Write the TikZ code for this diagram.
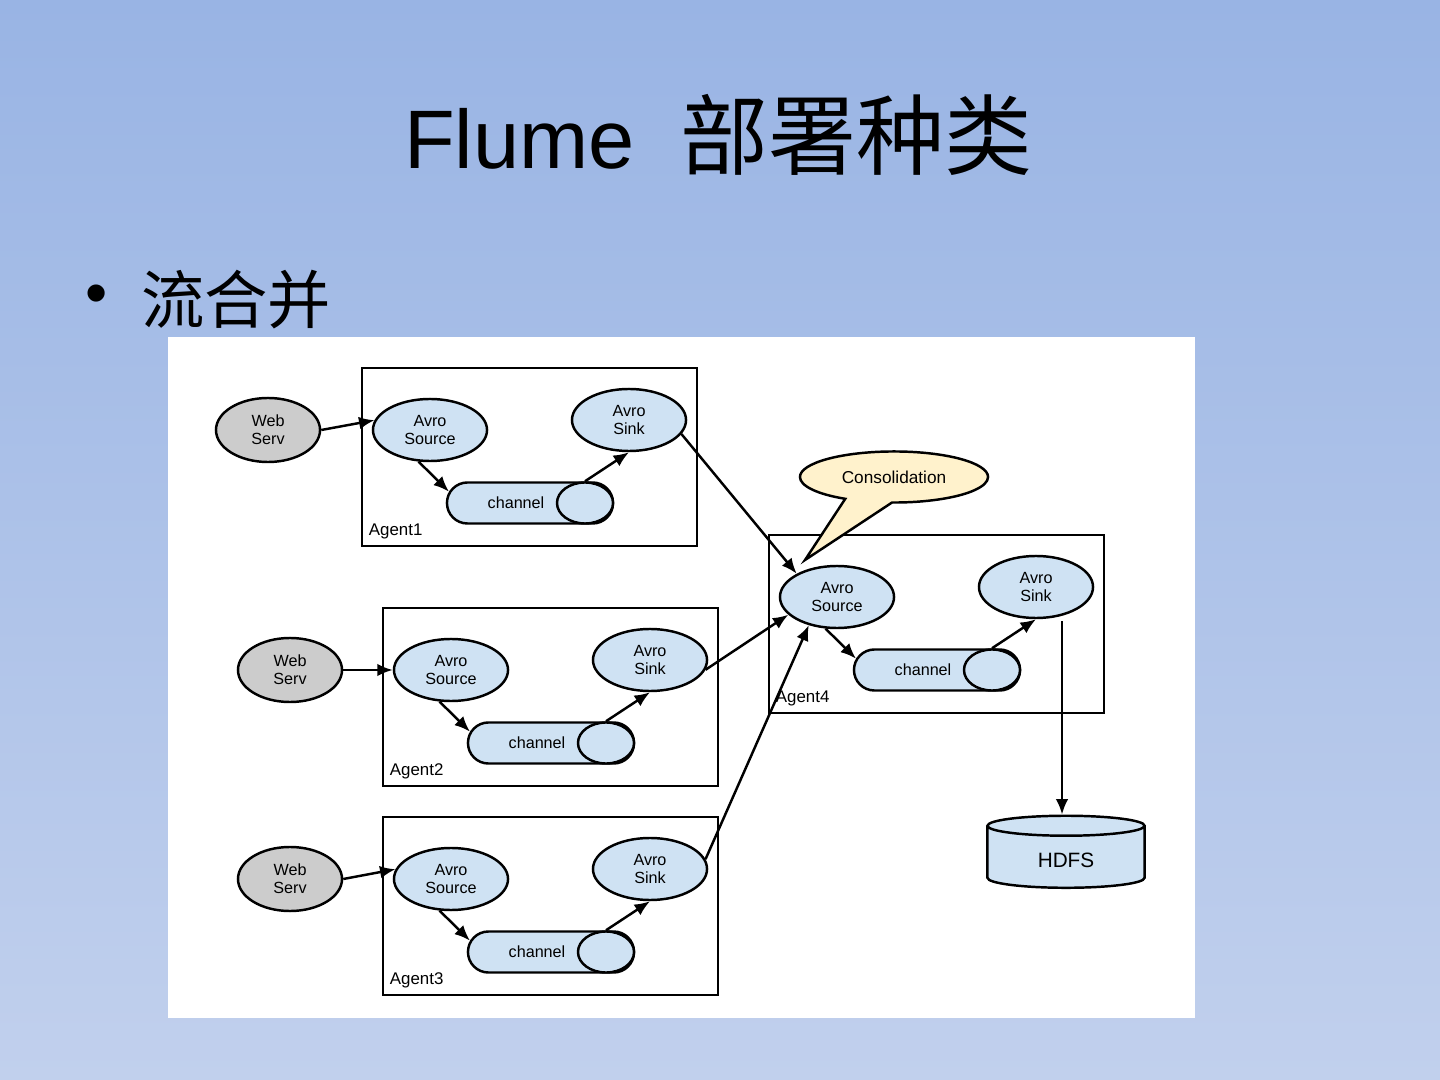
\documentclass[tikz,border=0pt]{standalone}
\usepackage{fontspec}
\setmainfont{Liberation Sans}
\newfontfamily\cjk{Noto Sans CJK SC}
\usepackage{tikz}
\usetikzlibrary{positioning,calc,arrows.meta,shapes.geometric,shapes.misc,shapes.callouts}

\definecolor{bgtop}{RGB}{153,180,228}
\definecolor{bgbot}{RGB}{193,208,237}
\definecolor{avrofill}{RGB}{207,226,243}
\definecolor{servfill}{RGB}{204,204,204}
\definecolor{notefill}{RGB}{255,242,204}

\begin{document}
\begin{tikzpicture}[x=0.01cm,y=-0.01cm,line width=0.7pt,
	small/.style={font=\fontsize{4.6}{5.2}\selectfont,align=center},
	agent/.style={draw,rectangle,minimum width=3.35cm,minimum height=1.78cm,inner sep=0},
	avro/.style={small,draw,ellipse,fill=avrofill,minimum width=1.14cm,minimum height=0.62cm,inner sep=0},
	serv/.style={avro,fill=servfill,minimum width=1.04cm,minimum height=0.64cm},
	chan/.style={draw,rounded rectangle,fill=avrofill,minimum width=1.66cm,minimum height=0.41cm,inner sep=0},
	chanend/.style={draw,ellipse,fill=avrofill,minimum width=0.56cm,minimum height=0.41cm,inner sep=0},
	flow/.style={-{Latex[length=4.4pt,width=3.6pt]}}]
		\useasboundingbox (0,0) rectangle (1440,1080);
		\shade[top color=bgtop,bottom color=bgbot] (0,0) rectangle (1440,1080);
		\node (head) at (718,135) {\fontsize{23.6}{28}\selectfont Flume\hspace{0.55em}{\fontsize{25}{28}\selectfont\cjk 部署种类}};
		\node (bul) at (97,300) {\fontsize{18}{22}\selectfont •};
		\node[anchor=west,inner sep=0] (sub) at (140,300) {\fontsize{18}{22}\selectfont\cjk 流合并};
		\fill[white] (168,337) rectangle (1195,1018);
		% the four agents
		\foreach \i/\dx/\dy in {1/0/0,2/21/240,3/21/449,4/407/167}{
		\begin{scope}[shift={(\dx,\dy)}]
		\node[agent] (a\i) at (529.5,457) {};
		\node[anchor=south west,inner sep=2pt,font=\fontsize{4.8}{5.4}\selectfont] (l\i) at (a\i.south west) {Agent\i};
		\node[avro] (s\i) at (430,430) {Avro\\Source};
		\node[avro] (k\i) at (629,420) {Avro\\Sink};
		\node[chan] (c\i) at (530,503) {};
		\node[chanend] (e\i) at (585,503) {};
		\node[small] (t\i) at (516,503) {channel};
		\draw[flow] (s\i.250) -- (c\i.172);
		\draw[flow] (e\i.north) -- (k\i.south);
		\end{scope}}
		% web servers
		\foreach \i/\dx/\dy/\ang in {1/0/0/170,2/22/240/180,3/22/449/170}{
		\node[serv] (w\i) at (268+\dx,430+\dy) {Web\\Serv};
		\draw[flow] (w\i.east) -- (s\i.\ang);}
		\draw[flow] (k1.345) -- (s4.150);
		\draw[flow] (k2.350) -- (s4.200);
		\draw[flow] (k3.10) -- (s4.225);
		\node[draw,ellipse callout,fill=notefill,minimum width=1.88cm,minimum height=0.5cm,callout pointer arc=30,callout absolute pointer={(805,560)},font=\fontsize{4.9}{5.5}\selectfont] (note) at (894,477) {Consolidation};
		\node[draw,cylinder,shape border rotate=90,aspect=0.25,fill=avrofill,minimum width=1.57cm,minimum height=0.72cm,font=\fontsize{5.9}{7}\selectfont] (hdfs) at (1066,860) {HDFS};
		\coordinate (out4) at ($(k4.south)+(26,2)$);
		\draw[flow] (out4) -- (out4 |- hdfs.north);
\end{tikzpicture}
\end{document}
